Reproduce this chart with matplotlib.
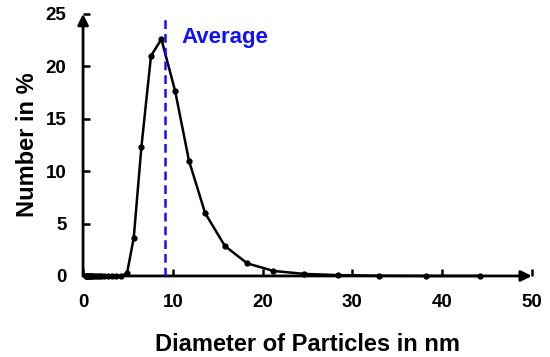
import matplotlib
matplotlib.use('Agg')
import matplotlib.pyplot as plt

# particle size distribution
diameter_nm = [0.31, 0.36, 0.41, 0.48, 0.55, 0.64, 0.74, 0.85, 0.99, 1.14,
               1.32, 1.53, 1.77, 2.05, 2.37, 2.74, 3.17, 3.66, 4.23,
               4.9, 5.65, 6.5, 7.57, 8.73, 10.27, 11.8, 13.6, 15.8,
               18.3, 21.2, 24.6, 28.4, 33.0, 38.2, 44.2]
number_pct = [0, 0, 0, 0, 0, 0, 0, 0, 0, 0,
              0, 0, 0, 0, 0, 0, 0, 0, 0,
              0.26, 3.66, 12.3, 21.0, 22.6, 17.6, 11.0, 6.0, 2.86,
              1.2, 0.48, 0.2, 0.08, 0.02, 0.0, 0.0]
average_nm = 9.1

x_ticks = [0, 10, 20, 30, 40, 50]
y_ticks = [0, 5, 10, 15, 20, 25]

plt.rcParams['font.family'] = ['Liberation Sans', 'DejaVu Sans']
plt.rcParams['font.weight'] = 'bold'

fig = plt.figure(figsize=(5.5, 3.57), dpi=100)
ax = fig.add_axes([0.151, 0.227, 0.816, 0.734])

ax.plot(diameter_nm, number_pct, color='black', lw=1.8, marker='o',
        markersize=3.5, zorder=3, clip_on=False)
ax.axvline(average_nm, ymin=0, ymax=0.99, color='#1010ff', lw=1.8,
           dashes=(3.5, 2), zorder=4)
ax.text(11.0, 22.2, 'Average', color='#1010ff', fontsize=16,
        fontweight='bold', ha='left', va='baseline')

ax.set_xlim(0, 50)
ax.set_ylim(0, 25)
ax.set_xticks(x_ticks)
ax.set_yticks(y_ticks)
ax.tick_params(axis='both', direction='in', length=5, width=1.8,
               labelsize=13.5)
ax.tick_params(axis='x', pad=13)
ax.tick_params(axis='y', pad=12)
for lab in ax.get_xticklabels() + ax.get_yticklabels():
    lab.set_fontweight('bold')

for side in ['top', 'right', 'left', 'bottom']:
    ax.spines[side].set_visible(False)

# axes drawn as arrows
arrow = dict(arrowstyle='-|>', color='black', lw=2, mutation_scale=16,
             shrinkA=0, shrinkB=0)
ax.annotate('', xy=(1.0, 0), xytext=(0, 0), xycoords='axes fraction',
            textcoords='axes fraction', arrowprops=arrow, zorder=2)
ax.annotate('', xy=(0, 1.0), xytext=(0, 0), xycoords='axes fraction',
            textcoords='axes fraction', arrowprops=arrow, zorder=2)

ax.set_xlabel('Diameter of Particles in nm', fontsize=17, fontweight='bold',
              labelpad=16)
ax.set_ylabel('Number in %', fontsize=17, fontweight='bold', labelpad=5)

fig.savefig('out.png', dpi=100)
